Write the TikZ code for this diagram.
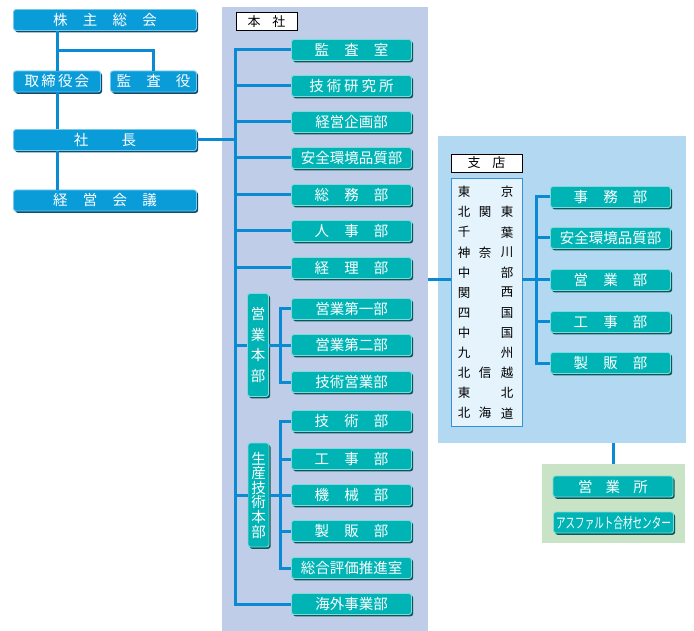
\documentclass[tikz,border=0pt]{standalone}
\usepackage{fontspec}
\newfontfamily\jp{Noto Sans CJK JP}
\usepackage{tikz}
\usetikzlibrary{shadows}
\definecolor{boxblue}{HTML}{0A9BD9}
\definecolor{boxblueshadow}{HTML}{0B4E70}
\definecolor{boxteal}{HTML}{00B4B6}
\definecolor{boxtealshadow}{HTML}{0C5858}
\definecolor{linkblue}{HTML}{0A8AD2}
\definecolor{panelhonsha}{HTML}{BFCDE8}
\definecolor{panelshiten}{HTML}{B3D9F2}
\definecolor{panelgreen}{HTML}{C8E3C5}
\definecolor{listfill}{HTML}{E4F3FC}
\definecolor{listline}{HTML}{3592D4}
\newcommand{\gp}{\hspace{1.05em}}

\tikzset{
  orgbox/.style={rounded corners=2.5pt, inner sep=0pt, minimum height=21pt, text=white,
    line width=0.9pt, font=\jp\fontsize{14.5}{14.5}\selectfont},
  bluebox/.style={orgbox, fill=boxblue, draw=boxblue!55!white,
    drop shadow={shadow xshift=1.6pt, shadow yshift=-1.8pt, fill=boxblueshadow, opacity=1}},
  tealbox/.style={orgbox, fill=boxteal, draw=boxteal!50!white, minimum width=120pt,
    drop shadow={shadow xshift=1.6pt, shadow yshift=-1.8pt, fill=boxtealshadow, opacity=1}},
  vbox/.style={tealbox, minimum width=21pt, text width=21pt, align=center},
  link/.style={draw=linkblue, line width=3pt},
  tag/.style={draw=black, fill=white, line width=0.8pt, inner sep=0pt, minimum height=18pt,
    font=\jp\fontsize{13}{13}\selectfont},
  listtext/.style={font=\jp\fontsize{12.5}{12.5}\selectfont, inner sep=0pt},
}

\begin{document}
\begin{tikzpicture}[x=1pt, y=-1pt]
  \useasboundingbox (0,0) rectangle (694,631);

  % panels
  \fill[panelhonsha] (222,7) rectangle (428,631);
  \fill[panelshiten] (438,136) rectangle (686,443);
  \fill[panelgreen]  (542,464) rectangle (685,543);

  % top management
  \node[bluebox, minimum width=183pt] (kabu) at (105,20) {株\gp 主\gp 総\gp 会};
  \node[bluebox, minimum width=87pt] (tori) at (57,81.5) {取\hspace{0.15em}締\hspace{0.15em}役\hspace{0.15em}会};
  \node[bluebox, minimum width=86pt] (kansayaku) at (153.5,81.5) {監\gp 査\gp 役};
  \node[bluebox, minimum width=183pt] (shacho) at (105,140) {社\hspace{2.3em}長};
  \node[bluebox, minimum width=183pt] (kaigi) at (105,200.5) {経\gp 営\gp 会\gp 議};

  \coordinate (j1) at (57,51);
  \draw[link] (kabu.south -| tori) -- (tori.north);
  \draw[link] (j1) -| (kansayaku.north);
  \draw[link] (tori.south) -- (shacho.north -| tori);
  \draw[link] (shacho.south -| tori) -- (kaigi.north -| tori);

  % head office
  \node[tag, minimum width=61pt] (honsha) at (266.5,21.5) {本\hspace{0.9em}社};
  \node[tealbox] (kansashitsu) at (351.5,50) {監\gp 査\gp 室};
  \node[tealbox] (kenkyu) at (351.5,86) {技\hspace{0.2em}術\hspace{0.2em}研\hspace{0.2em}究\hspace{0.2em}所};
  \node[tealbox] (kikaku) at (351.5,122) {経営企画部};
  \node[tealbox] (anzen) at (351.5,158) {安全環境品質部};
  \node[tealbox] (soumu) at (351.5,195) {総\gp 務\gp 部};
  \node[tealbox] (jinji) at (351.5,231) {人\gp 事\gp 部};
  \node[tealbox] (keiri) at (351.5,268) {経\gp 理\gp 部};
  \node[tealbox] (eigyo1) at (351.5,309) {営業第一部};
  \node[tealbox] (eigyo2) at (351.5,345) {営業第二部};
  \node[tealbox] (gieigyo) at (351.5,382) {技術営業部};
  \node[tealbox] (gijutsu) at (351.5,421) {技\gp 術\gp 部};
  \node[tealbox] (kouji) at (351.5,459) {工\gp 事\gp 部};
  \node[tealbox] (kikai) at (351.5,495) {機\gp 械\gp 部};
  \node[tealbox] (seihan) at (351.5,531) {製\gp 販\gp 部};
  \node[tealbox] (sougou) at (351.5,568) {総合評価推進室};
  \node[tealbox] (kaigai) at (351.5,604) {海外事業部};
  \node[vbox, minimum height=103pt, font=\jp\fontsize{14.5}{20.5}\selectfont] (eigyohonbu) at (258,345) {営\\業\\本\\部};
  \node[vbox, minimum height=104pt, font=\jp\fontsize{14.5}{14.6}\selectfont] (seisan) at (258.5,495) {生\\産\\技\\術\\本\\部};

  \coordinate (trunk) at (235,0);
  \coordinate (sub) at (280,0);
  \draw[link] (shacho.east) -- (trunk |- shacho.east);
  \draw[link] (kansashitsu.west) -| (trunk |- kaigai) -- (kaigai.west);
  \foreach \n in {kenkyu,kikaku,anzen,soumu,jinji,keiri}
    \draw[link] (trunk |- \n.west) -- (\n.west);
  \draw[link] (trunk |- eigyohonbu.west) -- (eigyohonbu.west);
  \draw[link] (eigyohonbu.east) -- (eigyo2.west);
  \draw[link] (eigyo1.west) -| (sub |- gieigyo) -- (gieigyo.west);
  \draw[link] (trunk |- seisan.west) -- (seisan.west);
  \draw[link] (seisan.east) -- (kikai.west);
  \draw[link] (gijutsu.west) -| (sub |- sougou) -- (sougou.west);
  \foreach \n in {kouji,seihan}
    \draw[link] (sub |- \n.west) -- (\n.west);

  % branches
  \node[tag, minimum width=71pt] (shiten) at (486.5,163) {支\hspace{0.9em}店};
  \node[draw=listline, fill=listfill, line width=0.9pt, minimum width=71pt, minimum height=248pt] (list) at (486.5,302) {};
  \foreach \a/\b/\c [count=\i] in {東//京, 北/関/東, 千//葉, 神/奈/川, 中//部, 関//西,
      四//国, 中//国, 九//州, 北/信/越, 東//北, 北/海/道} {
    \node[listtext] (ra\i) at (464,172+20.1*\i) {\a};
    \node[listtext] (rb\i) at (485,172+20.1*\i) {\b};
    \node[listtext] (rc\i) at (507,172+20.1*\i) {\c};
  }
  \node[tealbox] (jimu) at (610.5,197) {事\gp 務\gp 部};
  \node[tealbox] (anzen2) at (610.5,238) {安全環境品質部};
  \node[tealbox] (eigyobu) at (610.5,280) {営\gp 業\gp 部};
  \node[tealbox] (kouji2) at (610.5,322) {工\gp 事\gp 部};
  \node[tealbox] (seihan2) at (610.5,363) {製\gp 販\gp 部};

  \coordinate (hq) at (428,280);
  \coordinate (bt) at (536,0);
  \draw[link] (hq) -- (hq -| list.west);
  \draw[link] (list.east |- hq) -- (eigyobu.west);
  \draw[link] (jimu.west) -| (bt |- seihan2) -- (seihan2.west);
  \foreach \n in {anzen2,kouji2}
    \draw[link] (bt |- \n.west) -- (\n.west);

  % sales offices
  \node[tealbox] (eigyosho) at (613,486.5) {営\hspace{0.9em}業\hspace{0.9em}所};
  \node[tealbox] (asphalt) at (613.5,522.5) {\scalebox{0.66}[1]{アスファルト合材センター}};
  \coordinate (sp) at (613,443);
  \coordinate (gp) at (613,464);
  \draw[link] (sp) -- (gp);
\end{tikzpicture}
\end{document}
